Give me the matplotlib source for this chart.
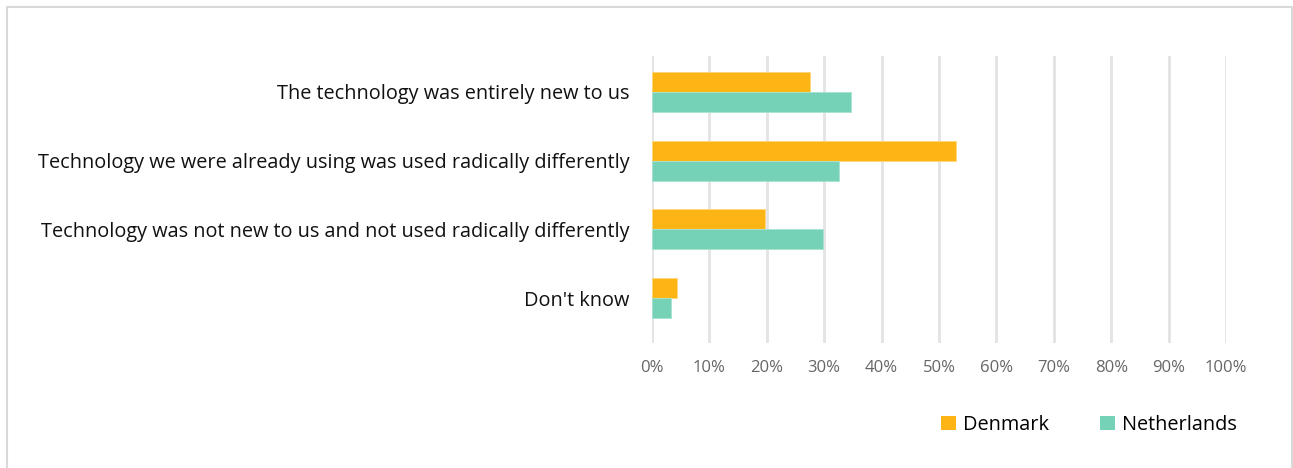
import matplotlib
matplotlib.use("Agg")
import matplotlib.pyplot as plt
from matplotlib.patches import Rectangle, Patch
from matplotlib.ticker import FuncFormatter
import numpy as np

plt.rcParams['font.family'] = ['Open Sans', 'DejaVu Sans']

categories = [
    "The technology was entirely new to us",
    "Technology we were already using was used radically differently",
    "Technology was not new to us and not used radically differently",
    "Don't know",
]
series_names = ["Denmark", "Netherlands"]
denmark = [27.5, 53.0, 19.7, 4.3]
netherlands = [34.7, 32.6, 29.8, 3.3]
x_ticks = [0, 10, 20, 30, 40, 50, 60, 70, 80, 90, 100]

colors = ["#FDB515", "#75D2B6"]

fig = plt.figure(figsize=(12.93, 4.68), dpi=100)
W, H = 1293, 468
ax = fig.add_axes([652 / W, 1 - 343 / H, (1226 - 652) / W, (343 - 56) / H])

y = np.arange(len(categories))
bh = 0.29
ax.barh(y - bh / 2, denmark, height=bh, color=colors[0], edgecolor="#FFD67A", linewidth=0.6, zorder=3)
ax.barh(y + bh / 2, netherlands, height=bh, color=colors[1], edgecolor="#A8E3D1", linewidth=0.6, zorder=3)

ax.set_xlim(0, 100)
ax.set_ylim(3.655, -0.524)
ax.set_xticks(x_ticks)
ax.xaxis.set_major_formatter(FuncFormatter(lambda v, p: f"{int(v)}%"))
ax.set_yticks(y)
ax.set_yticklabels(categories, fontsize=14.3, color="#111111")
ax.tick_params(axis="y", length=0, pad=16)
ax.tick_params(axis="x", length=0, pad=12, labelsize=12, labelcolor="#666666")
ax.grid(axis="x", color="#E3E3E3", linewidth=2, zorder=0)
for s in ax.spines.values():
    s.set_visible(False)

handles = [Patch(facecolor=c, edgecolor="none") for c in colors]
fig.legend(handles, series_names, loc="center left", bbox_to_anchor=(933 / W, 1 - 425 / H),
           ncol=2, frameon=False, fontsize=14.3, handlelength=0.75, handleheight=0.75,
           handletextpad=0.35, columnspacing=2.6, borderaxespad=0)

fig.patches.append(Rectangle((7 / W, -0.05), (1292 - 7) / W, 1.05 - 7 / H,
                             transform=fig.transFigure, fill=False,
                             edgecolor="#D9D9D9", linewidth=1.5))

fig.savefig("out.png", dpi=100, facecolor="white")
